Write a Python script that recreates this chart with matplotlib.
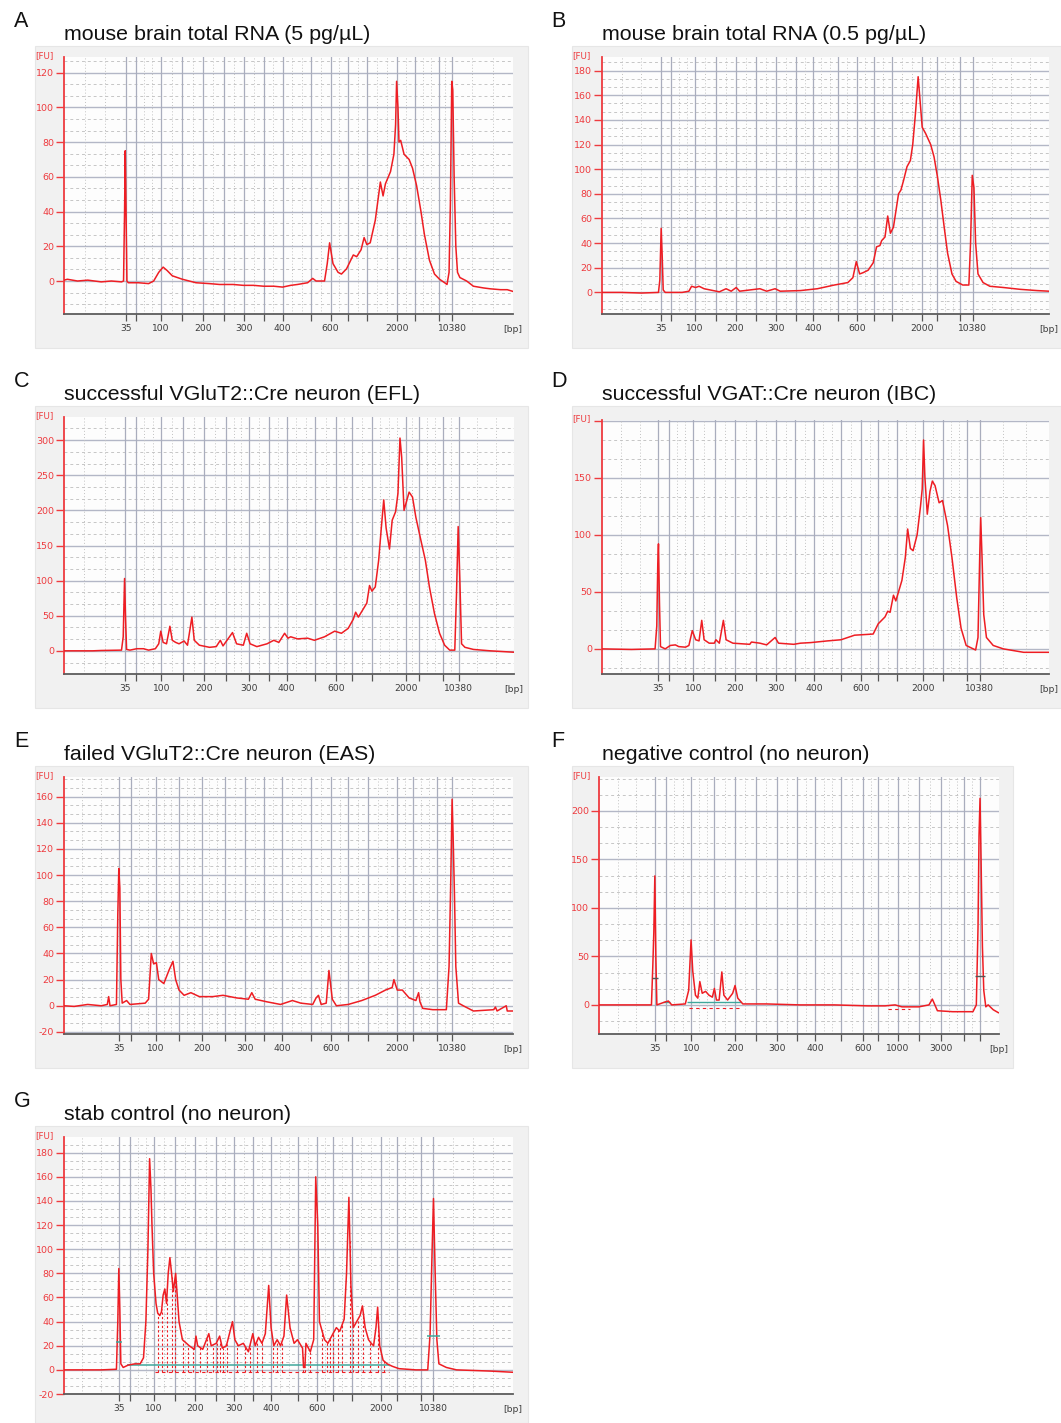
import numpy as np
import matplotlib
matplotlib.use("Agg")
import matplotlib.pyplot as plt
from matplotlib.patches import Rectangle

# ---------------- data (x = migration position, y = fluorescence [FU]) ----------------
LABELS_STD = ['35', '', '100', '', '200', '', '300', '', '400', '', '600', '', '', '2000', '', '', '10380']
LABELS_F = ['35', '', '100', '', '200', '', '300', '', '400', '', '600', '', '1000', '', '3000', '', '']

A_ladder = [372, 402, 476, 540, 600, 663, 722, 780, 836, 920, 978, 1030, 1085, 1175, 1228, 1297, 1337]
B_ladder = [388, 417, 488, 549, 608, 668, 729, 788, 838, 910, 967, 1017, 1070, 1160, 1205, 1272, 1310]
C_ladder = [370, 402, 478, 543, 605, 668, 737, 795, 848, 932, 995, 1042, 1100, 1200, 1240, 1310, 1357]
D_ladder = [380, 410, 483, 546, 607, 668, 727, 785, 840, 921, 980, 1030, 1086, 1163, 1222, 1292, 1330]
E_ladder = [352, 388, 462, 530, 597, 665, 725, 782, 835, 920, 980, 1030, 1088, 1175, 1222, 1293, 1337]
F_ladder = [370, 403, 478, 545, 607, 668, 731, 790, 843, 920, 985, 1030, 1088, 1150, 1215, 1285, 1330]
G_ladder = [352, 385, 455, 518, 577, 640, 693, 750, 803, 882, 938, 985, 1040, 1127, 1175, 1245, 1282]

A_x = [190, 200, 230, 260, 300, 330, 360, 366, 369, 371,
       373, 376, 380, 410, 440, 455, 470, 483, 495, 510,
       540, 580, 620, 650, 690, 720, 750, 780, 810, 836,
       860, 880, 910, 925, 935, 960, 968, 975, 985, 1000,
       1010, 1025, 1045, 1055, 1068, 1077, 1085, 1095, 1110, 1125,
       1133, 1140, 1155, 1165, 1170, 1173, 1177, 1180, 1185, 1195,
       1210, 1220, 1232, 1245, 1255, 1270, 1285, 1300, 1315, 1322,
       1328, 1332, 1336, 1339, 1343, 1348, 1353, 1360, 1380, 1400,
       1430, 1450, 1480, 1500, 1517]
A_y = [0.5, 1, 0, 0.5, -0.5, 0, -0.5, 0, 40, 75,
       45, 0, -1, -1, -1.5, 0, 5, 8, 6, 3,
       1, -1, -1.5, -2, -2, -2.5, -2.5, -3, -3, -3.5,
       -2.5, -2, -1, 1.5, 0, 0, 10, 22, 10, 5,
       4, 7, 15, 14, 18, 25, 21, 22, 35, 57,
       49, 56, 63, 73, 90, 115, 100, 80, 81, 73,
       70, 65, 55, 40, 27, 12, 4, 1, -1, -2,
       5, 45, 115, 110, 60, 20, 5, 2, 0, -3,
       -4, -4.5, -5, -5, -6]

B_x = [213, 270, 330, 380, 384, 388, 391, 394, 400, 450,
       470, 478, 490, 500, 515, 560, 580, 595, 610, 620,
       680, 700, 725, 740, 800, 850, 900, 940, 955, 965,
       975, 985, 1000, 1015, 1025, 1035, 1040, 1050, 1058, 1066,
       1075, 1090, 1097, 1105, 1115, 1125, 1132, 1140, 1148, 1160,
       1170, 1185, 1195, 1205, 1215, 1225, 1235, 1248, 1260, 1280,
       1298, 1303, 1308, 1313, 1318, 1325, 1340, 1360, 1400, 1450,
       1500, 1535]
B_y = [0, 0, -0.5, 0, 10, 52, 30, 2, 0, 0,
       1, 5, 4, 5, 3, 0.5, 3, 1, 4, 1,
       3, 1, 3, 1, 1.5, 3, 6, 8, 12, 25,
       15, 16, 18, 24, 37, 38, 42, 45, 62, 48,
       53, 80, 83, 91, 102, 107, 120, 145, 175, 134,
       129, 120, 110, 94, 75, 53, 32, 15, 9, 6,
       6, 40, 95, 85, 40, 15, 8, 5, 4, 2.5,
       1.5, 1]

C_x = [190, 275, 300, 360, 365, 369, 372, 375, 385, 405,
       425, 440, 460, 470, 476, 483, 493, 503, 510, 520,
       530, 545, 555, 568, 575, 590, 620, 640, 652, 660,
       688, 700, 720, 730, 740, 760, 790, 810, 825, 842,
       852, 860, 880, 910, 930, 960, 990, 1010, 1030, 1045,
       1052, 1060, 1075, 1085, 1093, 1100, 1110, 1120, 1128, 1135,
       1142, 1152, 1160, 1170, 1177, 1183, 1188, 1195, 1203, 1210,
       1220, 1230, 1245, 1258, 1270, 1285, 1300, 1315, 1330, 1345,
       1350, 1355, 1360, 1365, 1375, 1400, 1450, 1520]
C_y = [0, 0, 0.5, 1, 20, 103, 45, 2, 1, 3,
       3, 1, 3, 10, 28, 12, 10, 35, 15, 12,
       10, 14, 8, 48, 15, 8, 5, 6, 15, 7,
       26, 10, 8, 25, 10, 6, 10, 15, 12, 25,
       18, 20, 17, 18, 15, 20, 28, 25, 32, 45,
       55, 48, 60, 68, 93, 85, 91, 129, 176, 215,
       175, 145, 186, 198, 224, 303, 276, 200, 214, 226,
       219, 190, 157, 129, 91, 53, 25, 8, 1, 1,
       80, 177, 100, 10, 5, 2, 0, -2]

D_x = [213, 300, 370, 375, 378, 380, 383, 386, 400, 415,
       430, 440, 460, 470, 480, 490, 500, 508, 515, 530,
       545, 550, 560, 572, 580, 600, 650, 655, 680, 700,
       725, 735, 780, 800, 830, 880, 920, 960, 1015, 1030,
       1050, 1058, 1065, 1075, 1082, 1100, 1110, 1117, 1125, 1133,
       1145, 1155, 1160, 1164, 1168, 1175, 1183, 1190, 1198, 1210,
       1220, 1235, 1248, 1262, 1275, 1290, 1318, 1325, 1330, 1333,
       1337, 1342, 1350, 1370, 1400, 1460, 1535]
D_y = [0, -0.5, 0, 20, 75, 92, 40, 2, 0, 3,
       3.5, 2, 1.5, 3, 16, 8, 7, 25, 8, 5,
       5, 8, 5, 25, 8, 5, 4, 6, 5, 3.5,
       10, 5, 4, 5, 5.5, 7, 8, 12, 13, 22,
       28, 33, 32, 47, 42, 60, 80, 105, 88, 86,
       100, 125, 140, 183, 150, 118, 138, 147, 143, 128,
       130, 108, 80, 45, 18, 3, -1, 10, 80, 115,
       80, 30, 10, 3, 0, -3, -3]

E_x = [190, 220, 260, 300, 318, 322, 326, 345, 349, 352,
       355, 358, 362, 375, 385, 430, 440, 448, 455, 463,
       470, 485, 500, 512, 520, 530, 545, 565, 590, 630,
       660, 700, 735, 745, 755, 790, 830, 865, 890, 925,
       935, 942, 950, 965, 973, 983, 995, 1030, 1070, 1110,
       1140, 1160, 1165, 1175, 1190, 1210, 1230, 1238, 1242, 1250,
       1280, 1320, 1328, 1333, 1337, 1340, 1344, 1348, 1356, 1370,
       1400, 1460, 1465, 1470, 1497, 1500, 1517]
E_y = [0, -0.5, 1, 0, 1, 7, 0, 1, 70, 105,
       90, 20, 2, 4, 1, 2, 5, 40, 32, 33,
       20, 17, 27, 34, 20, 12, 8, 10, 7, 7,
       8, 6, 5, 10, 5, 3, 1, 4, 2, 1,
       6, 8, 1, 2, 27, 5, 0, 1, 4, 8,
       12, 14, 20, 12, 12, 6, 4, 10, 3, -2,
       -3, -3, 30, 95, 158, 130, 85, 30, 2, 0,
       -4, -3, -1, -4, 0, -4, -4]

F_x = [205, 300, 360, 364, 367, 370, 373, 376, 400, 410,
       420, 460, 470, 477, 482, 490, 497, 503, 510, 520,
       530, 540, 546, 552, 560, 568, 574, 585, 600, 607,
       615, 630, 700, 800, 900, 1000, 1050, 1080, 1100, 1150,
       1180, 1190, 1195, 1205, 1250, 1310, 1320, 1325, 1328, 1331,
       1334, 1338, 1342, 1348, 1355, 1370, 1385]
F_y = [0, 0, 0, 40, 75, 133, 50, 0, 3, 4,
       0, 1, 15, 67, 35, 10, 7, 24, 12, 14,
       10, 8, 17, 5, 5, 34, 10, 5, 12, 20,
       7, 1, 1, 0, 0, -1, -1, 0, -2, -2,
       0, 6, 2, -6, -7, -7, 0, 80, 175, 213,
       150, 60, 15, -2, 0, -5, -8]

G_x = [190, 300, 345, 349, 352, 355, 358, 365, 380, 400,
       415, 425, 432, 438, 443, 447, 450, 455, 462, 467,
       473, 478, 483, 488, 493, 498, 503, 508, 513, 520,
       525, 530, 540, 560, 575, 580, 585, 600, 618, 625,
       640, 650, 658, 670, 688, 695, 705, 720, 735, 748,
       755, 765, 775, 785, 795, 802, 810, 820, 830, 840,
       848, 858, 870, 880, 895, 898, 902, 905, 918, 928,
       934, 940, 945, 950, 960, 970, 985, 995, 1005, 1018,
       1025, 1032, 1038, 1045, 1055, 1065, 1072, 1080, 1090, 1098,
       1105, 1112, 1117, 1123, 1133, 1145, 1160, 1180, 1230, 1265,
       1272, 1278, 1282, 1287, 1292, 1298, 1320, 1350, 1450, 1517]
G_y = [0, 0, 0.5, 40, 84, 50, 5, 2, 4, 5,
       5, 10, 40, 100, 175, 150, 120, 80, 55, 47,
       45, 48, 62, 67, 55, 80, 93, 80, 65, 80,
       60, 40, 25, 20, 17, 28, 20, 17, 30, 20,
       22, 28, 18, 20, 40, 25, 20, 22, 15, 30,
       20, 27, 22, 30, 70, 35, 20, 25, 20, 28,
       62, 35, 22, 25, 18, 2, 2, 22, 15, 25,
       160, 120, 40, 35, 25, 22, 30, 35, 32, 42,
       80, 143, 70, 35, 40, 45, 53, 35, 25, 22,
       20, 35, 52, 20, 8, 5, 3, 1, 0, 0,
       30, 100, 142, 80, 25, 5, 2, 0, -1, -2]

# peak-integration boundaries (stab control)
G_bounds = [467, 479, 494, 509, 518, 541, 556, 571, 592, 612, 630, 642, 651, 660, 671,
            701, 725, 740, 760, 775, 808, 819, 834, 896, 902, 917, 952, 967, 976, 985,
            1000, 1012, 1035, 1044, 1059, 1074, 1094, 1118, 1135]

# ---------------- figure ----------------
W, H = 1061, 1423
fig = plt.figure(figsize=(W / 100, H / 100), dpi=100)
fig.patch.set_facecolor('white')

SANS = ['Liberation Sans', 'DejaVu Sans']
TICKF = ['DejaVu Sans']
RED = '#ee1d23'
AXRED = '#ee3b3f'
TEAL = '#3fa79c'


def fy(y):
    return 1 - y / H


panels = [
    dict(letter='A', title='mouse brain total RNA (5 pg/\u00b5L)', row=0, col=0,
         box=(35, 46, 528, 348), ax=(64, 57, 513, 314), xlim=(190, 1517), ylim=(-19, 129),
         yt=[0, 20, 40, 60, 80, 100, 120], x=A_x, y=A_y, ladder=A_ladder, xl=LABELS_STD),
    dict(letter='B', title='mouse brain total RNA (0.5 pg/\u00b5L)', row=0, col=1,
         box=(572, 46, 1061, 348), ax=(602, 57, 1049, 314), xlim=(213, 1535), ylim=(-17.5, 191),
         yt=[0, 20, 40, 60, 80, 100, 120, 140, 160, 180], x=B_x, y=B_y, ladder=B_ladder, xl=LABELS_STD),
    dict(letter='C', title='successful VGluT2::Cre neuron (EFL)', row=1, col=0,
         box=(35, 406, 528, 708), ax=(64, 417, 514, 674), xlim=(190, 1520), ylim=(-33, 333),
         yt=[0, 50, 100, 150, 200, 250, 300], x=C_x, y=C_y, ladder=C_ladder, xl=LABELS_STD),
    dict(letter='D', title='successful VGAT::Cre neuron (IBC)', row=1, col=1,
         box=(572, 406, 1061, 708), ax=(602, 420, 1049, 674), xlim=(213, 1535), ylim=(-22, 200.5),
         yt=[0, 50, 100, 150, 200], ytl=['0', '50', '100', '150', ''], x=D_x, y=D_y,
         ladder=D_ladder, xl=LABELS_STD),
    dict(letter='E', title='failed VGluT2::Cre neuron (EAS)', row=2, col=0,
         box=(35, 766, 528, 1068), ax=(64, 777, 513, 1034), xlim=(190, 1517), ylim=(-21.6, 175),
         yt=[-20, 0, 20, 40, 60, 80, 100, 120, 140, 160], x=E_x, y=E_y, ladder=E_ladder, xl=LABELS_STD),
    dict(letter='F', title='negative control (no neuron)', row=2, col=1,
         box=(572, 766, 1013, 1068), ax=(599, 777, 999, 1034), xlim=(205, 1387), ylim=(-30, 235),
         yt=[0, 50, 100, 150, 200], x=F_x, y=F_y, ladder=F_ladder, xl=LABELS_F),
    dict(letter='G', title='stab control (no neuron)', row=3, col=0,
         box=(35, 1126, 528, 1423), ax=(64, 1137, 513, 1394), xlim=(190, 1517), ylim=(-20, 193),
         yt=[-20, 0, 20, 40, 60, 80, 100, 120, 140, 160, 180], x=G_x, y=G_y, ladder=G_ladder, xl=LABELS_STD),
]

axes = {}
for p in panels:
    bx0, by0, bx1, by1 = p['box']
    fig.patches.append(Rectangle((bx0 / W, fy(by1)), (bx1 - bx0) / W, (by1 - by0) / H,
                                 transform=fig.transFigure, facecolor='#f1f1f1',
                                 edgecolor='#e6e6e6', lw=0.8, zorder=-5))
    ax0, ay0, ax1, ay1 = p['ax']
    ax = fig.add_axes([ax0 / W, fy(ay1), (ax1 - ax0) / W, (ay1 - ay0) / H])
    ax.set_zorder(2)
    axes[p['letter']] = ax
    ax.set_facecolor('#fdfdfd')
    xlim, ylim = p['xlim'], p['ylim']
    ax.set_xlim(*xlim)
    ax.set_ylim(*ylim)

    # horizontal grid (major solid, minor dashed at thirds)
    step = p['yt'][1] - p['yt'][0]
    m = step / 3.0
    k0 = int(np.ceil(ylim[0] / m - 1e-9))
    k1 = int(np.floor(ylim[1] / m + 1e-9))
    for k in range(k0, k1 + 1):
        v = k * m
        if k % 3 == 0:
            ax.axhline(v, color='#b3b7c6', lw=1.0, zorder=1)
        else:
            ax.axhline(v, color='#c6c6c6', lw=0.7, ls=(0, (3, 3)), zorder=1)

    # vertical grid: solid at ladder peaks, dotted subdivisions
    ppu = (ax1 - ax0) / (xlim[1] - xlim[0])
    lad = p['ladder']
    edges = [xlim[0]] + lad + [xlim[1]]
    for i in range(len(edges) - 1):
        a, b = edges[i], edges[i + 1]
        gap = (b - a) * ppu
        if i == 0 or i == len(edges) - 2:
            n = max(1, int(round(gap / 20.0)))
        else:
            n = max(1, int(round(gap / 9.0)))
        for k in range(1, n):
            ax.axvline(a + (b - a) * k / n, color='#c2c2c2', lw=0.7, ls=(0, (1, 2.2)), zorder=1)
    for v in lad:
        ax.axvline(v, color='#a9adbd', lw=0.9, zorder=1)

    # trace
    ax.plot(p['x'], p['y'], color=RED, lw=1.1, zorder=5, solid_joinstyle='round')

    # spines / ticks
    for s in ('top', 'right'):
        ax.spines[s].set_visible(False)
    ax.spines['left'].set_color(AXRED)
    ax.spines['left'].set_linewidth(1.3)
    ax.spines['bottom'].set_color('#5c5c5c')
    ax.spines['bottom'].set_linewidth(1.3)
    ax.set_yticks(p['yt'])
    ax.set_yticklabels(p.get('ytl', [str(v) for v in p['yt']]), fontfamily=TICKF)
    ax.tick_params(axis='y', colors=AXRED, length=6, width=1.0, pad=1, labelsize=6.8,
                   labelcolor=AXRED)
    ax.set_xticks(lad)
    ax.set_xticklabels(p['xl'], fontfamily=TICKF)
    ax.tick_params(axis='x', colors='#555555', length=5, width=0.9, pad=2.5, labelsize=6.6,
                   labelcolor='#3c3c3c')

    # [FU] and [bp]
    fig.text(bx0 / W, fy(ay0 - 1), '[FU]', ha='left', va='center', color=AXRED,
             fontsize=6.3, family=TICKF, zorder=6)
    fig.text(ax1 / W, fy(ay1 + 15), '[bp]', ha='center', va='center', color='#3c3c3c',
             fontsize=6.6, family=TICKF, zorder=6)

    # letter + title
    top = p['row'] * 360
    lx = 14 if p['col'] == 0 else 551
    tx = 64 if p['col'] == 0 else 602
    fig.text(lx / W, fy(top + 27), p['letter'], ha='left', va='baseline', fontsize=15.5,
             family=SANS, color='#111111')
    fig.text(tx / W, fy(top + 39.5), p['title'], ha='left', va='baseline', fontsize=15.4,
             family=SANS, color='#111111')

# ---- integration annotations (F) ----
axF = axes['F']
axF.hlines([3, 3], [395, 465], [415, 625], color=TEAL, lw=1.0, zorder=4)
axF.hlines([-3, -4], [470, 1060], [625, 1125], color=RED, lw=0.8, ls=(0, (3, 3)), zorder=4)
axF.hlines([28, 30], [362, 1316], [378, 1346], color='#555555', lw=1.0, zorder=6)

# ---- integration annotations (G) ----
axG = axes['G']
tops = np.interp(G_bounds, G_x, G_y)
axG.vlines(G_bounds, -1.5, tops, color=RED, lw=0.8, ls=(0, (2, 2)), zorder=4)
axG.hlines(-1.5, 460, 1150, color=RED, lw=0.8, ls=(0, (3, 3)), zorder=4)
axG.hlines(4, 375, 1150, color=TEAL, lw=1.1, zorder=4)
axG.hlines([23, 28], [343, 1262], [360, 1300], color=TEAL, lw=1.1, zorder=6)

fig.savefig('out.png', dpi=100, facecolor='white')
